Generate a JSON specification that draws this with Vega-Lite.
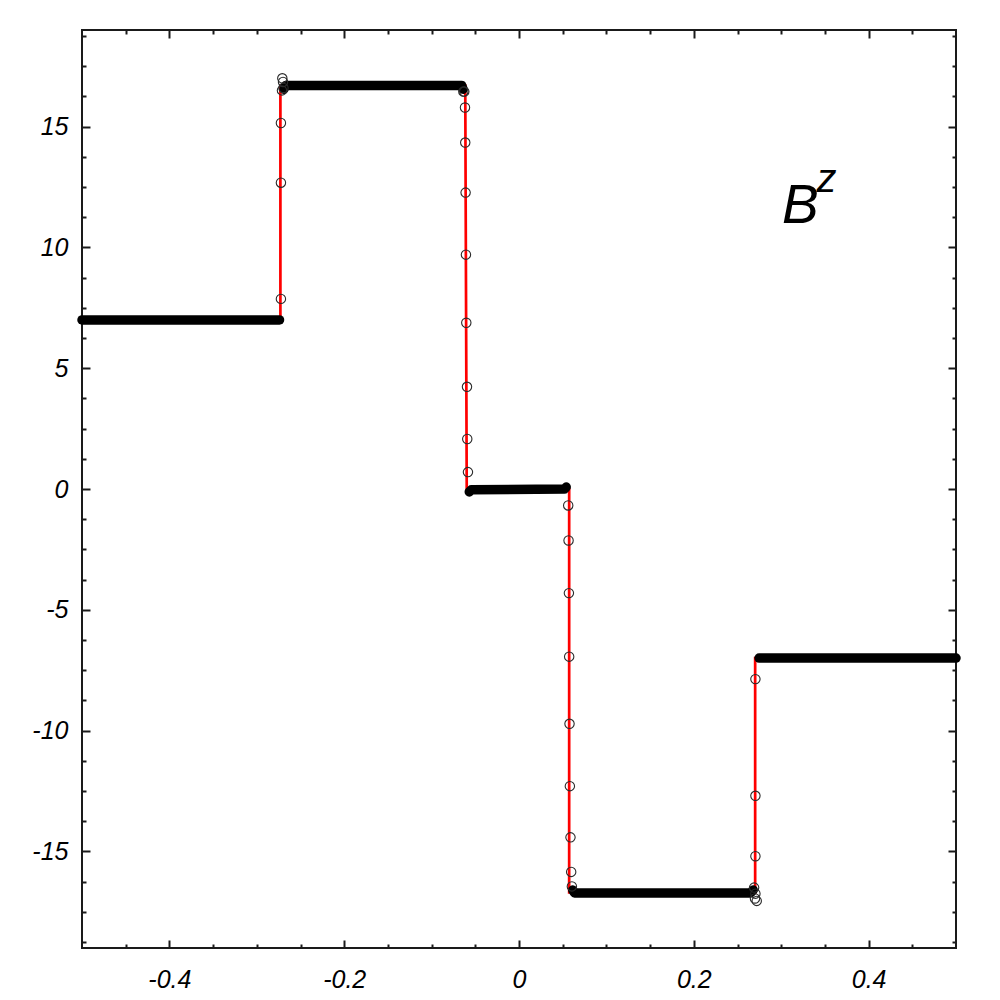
{
  "$schema": "https://vega.github.io/schema/vega-lite/v6.json",
  "width": 874,
  "height": 918,
  "autosize": {"type": "none"},
  "padding": {"left": 82, "top": 30, "right": 44, "bottom": 52},
  "background": "white",
  "config": {
    "view": {"stroke": "#1a1a1a", "strokeWidth": 2},
    "axis": {
      "domain": false,
      "grid": false,
      "title": null,
      "tickColor": "#1a1a1a",
      "tickWidth": 2,
      "labelFont": "Liberation Sans",
      "labelFontStyle": "italic",
      "labelFontSize": 25,
      "labelColor": "#000000"
    }
  },
  "datasets": {
    "exact": [
      {"x": -0.5, "y": 7.0},
      {"x": -0.273, "y": 7.0},
      {"x": -0.273, "y": 16.7},
      {"x": -0.0615, "y": 16.7},
      {"x": -0.0598, "y": 0.0},
      {"x": 0.0574, "y": 0.0},
      {"x": 0.0574, "y": -16.7},
      {"x": 0.2702, "y": -16.7},
      {"x": 0.2702, "y": -7.0},
      {"x": 0.5, "y": -7.0}
    ],
    "num": [
      {"seg": 1, "x": -0.5, "y": 7.0},
      {"seg": 1, "x": -0.274, "y": 7.0},
      {"seg": 2, "x": -0.269, "y": 16.55},
      {"seg": 2, "x": -0.267, "y": 16.7},
      {"seg": 2, "x": -0.0655, "y": 16.7},
      {"seg": 2, "x": -0.064, "y": 16.55},
      {"seg": 3, "x": -0.0569, "y": -0.12},
      {"seg": 3, "x": -0.0545, "y": -0.03},
      {"seg": 3, "x": 0.052, "y": 0.0},
      {"seg": 3, "x": 0.054, "y": 0.08},
      {"seg": 4, "x": 0.0615, "y": -16.6},
      {"seg": 4, "x": 0.0635, "y": -16.72},
      {"seg": 4, "x": 0.265, "y": -16.72},
      {"seg": 4, "x": 0.268, "y": -16.6},
      {"seg": 5, "x": 0.2747, "y": -7.0},
      {"seg": 5, "x": 0.5, "y": -7.0}
    ],
    "pts": [
      {"x": -0.2724, "y": 7.87},
      {"x": -0.2724, "y": 12.68},
      {"x": -0.2724, "y": 15.15},
      {"x": -0.2712, "y": 16.5},
      {"x": -0.2708, "y": 17.0},
      {"x": -0.27, "y": 16.85},
      {"x": -0.2695, "y": 16.6},
      {"x": -0.0637, "y": 16.45},
      {"x": -0.0626, "y": 16.45},
      {"x": -0.0618, "y": 15.79},
      {"x": -0.0615, "y": 14.34},
      {"x": -0.0611, "y": 12.27},
      {"x": -0.0607, "y": 9.7},
      {"x": -0.0603, "y": 6.88},
      {"x": -0.0595, "y": 4.23},
      {"x": -0.0592, "y": 2.07},
      {"x": -0.0584, "y": 0.7},
      {"x": 0.0563, "y": -0.68},
      {"x": 0.0567, "y": -2.13},
      {"x": 0.0571, "y": -4.31},
      {"x": 0.0574, "y": -6.94},
      {"x": 0.0578, "y": -9.72},
      {"x": 0.0582, "y": -12.3},
      {"x": 0.0589, "y": -14.42},
      {"x": 0.0597, "y": -15.85},
      {"x": 0.0605, "y": -16.45},
      {"x": 0.2705, "y": -7.87},
      {"x": 0.2705, "y": -12.7},
      {"x": 0.2705, "y": -15.2},
      {"x": 0.269, "y": -16.5},
      {"x": 0.2705, "y": -16.75},
      {"x": 0.27, "y": -16.95},
      {"x": 0.272, "y": -17.05}
    ],
    "labels": [
      {"x": 0.301, "y": 11.0, "t": "B"},
      {"x": 0.3405, "y": 12.3, "t": "z"}
    ]
  },
  "layer": [
    {
      "data": {"name": "exact"},
      "mark": {"type": "line", "color": "#ff0000", "strokeWidth": 2.7},
      "encoding": {
        "x": {"field": "x", "type": "quantitative",
          "scale": {"domain": [-0.5, 0.5], "nice": false, "zero": false},
          "axis": {"orient": "bottom", "values": [-0.4, -0.2, 0, 0.2, 0.4], "tickSize": -8, "labelPadding": 27, "labelExpr": "toString(datum.value)"}},
        "y": {"field": "y", "type": "quantitative",
          "scale": {"domain": [-19, 19], "nice": false, "zero": false},
          "axis": {"orient": "left", "values": [-15, -10, -5, 0, 5, 10, 15], "tickSize": -8, "labelPadding": 22, "labelExpr": "toString(datum.value)"}},
        "order": {"value": null}
      }
    },
    {
      "data": {"name": "num"},
      "mark": {"type": "line", "color": "#000000", "strokeWidth": 9.5, "strokeCap": "round", "strokeJoin": "round"},
      "encoding": {
        "x": {"field": "x", "type": "quantitative",
          "scale": {"domain": [-0.5, 0.5], "nice": false, "zero": false},
          "axis": {"orient": "bottom", "values": [-0.45, -0.35, -0.3, -0.25, -0.15, -0.1, -0.05, 0.05, 0.1, 0.15, 0.25, 0.3, 0.35, 0.45], "tickSize": -4, "labels": false}},
        "y": {"field": "y", "type": "quantitative",
          "scale": {"domain": [-19, 19], "nice": false, "zero": false},
          "axis": {"orient": "left", "values": [-18.75, -17.5, -16.25, -13.75, -12.5, -11.25, -8.75, -7.5, -6.25, -3.75, -2.5, -1.25, 1.25, 2.5, 3.75, 6.25, 7.5, 8.75, 11.25, 12.5, 13.75, 16.25, 17.5, 18.75], "tickSize": -4, "labels": false}},
        "detail": {"field": "seg", "type": "nominal"},
        "order": {"value": null}
      }
    },
    {
      "data": {"name": "pts"},
      "mark": {"type": "point", "shape": "circle", "filled": false, "stroke": "#2a2a2a", "strokeWidth": 1.1, "size": 88, "opacity": 1},
      "encoding": {
        "x": {"field": "x", "type": "quantitative",
          "scale": {"domain": [-0.5, 0.5], "nice": false, "zero": false},
          "axis": {"orient": "top", "values": [-0.4, -0.2, 0, 0.2, 0.4], "tickSize": -8, "labels": false}},
        "y": {"field": "y", "type": "quantitative",
          "scale": {"domain": [-19, 19], "nice": false, "zero": false},
          "axis": {"orient": "right", "values": [-15, -10, -5, 0, 5, 10, 15], "tickSize": -8, "labels": false}}
      }
    },
    {
      "data": {"name": "labels"},
      "mark": {"type": "text", "font": "Liberation Sans", "fontStyle": "italic", "align": "left", "baseline": "alphabetic", "color": "#000000"},
      "encoding": {
        "x": {"field": "x", "type": "quantitative",
          "scale": {"domain": [-0.5, 0.5], "nice": false, "zero": false},
          "axis": {"orient": "top", "values": [-0.45, -0.35, -0.3, -0.25, -0.15, -0.1, -0.05, 0.05, 0.1, 0.15, 0.25, 0.3, 0.35, 0.45], "tickSize": -4, "labels": false}},
        "y": {"field": "y", "type": "quantitative",
          "scale": {"domain": [-19, 19], "nice": false, "zero": false},
          "axis": {"orient": "right", "values": [-18.75, -17.5, -16.25, -13.75, -12.5, -11.25, -8.75, -7.5, -6.25, -3.75, -2.5, -1.25, 1.25, 2.5, 3.75, 6.25, 7.5, 8.75, 11.25, 12.5, 13.75, 16.25, 17.5, 18.75], "tickSize": -4, "labels": false}},
        "text": {"field": "t", "type": "nominal"},
        "size": {"condition": {"test": "datum.t === 'B'", "value": 55}, "value": 40}
      }
    }
  ],
  "resolve": {"axis": {"x": "independent", "y": "independent"}}
}
